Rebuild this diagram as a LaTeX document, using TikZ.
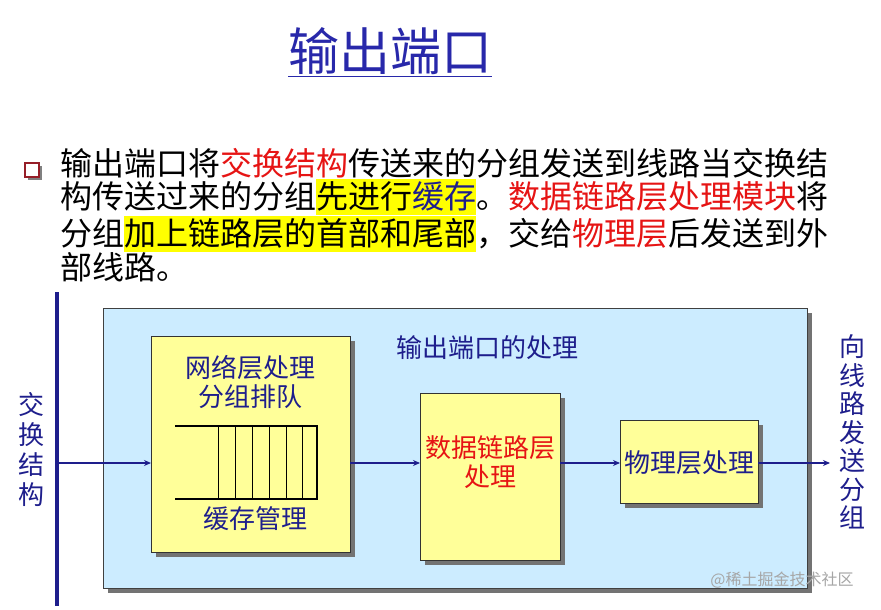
\documentclass[tikz,border=0pt]{standalone}
\usepackage{fontspec}
\usetikzlibrary{arrows.meta}
\newfontfamily\cjk{Noto Sans CJK SC}
\definecolor{navy}{RGB}{30,30,140}
\definecolor{ttl}{RGB}{40,40,170}
\definecolor{lblue}{RGB}{204,236,255}
\definecolor{lyel}{RGB}{255,255,153}
\definecolor{hl}{RGB}{255,255,0}
\definecolor{rd}{RGB}{230,20,20}
\definecolor{bred}{RGB}{150,30,40}
\tikzset{
 box/.style={draw=black!80,line width=1pt,fill=lyel},
 shad/.style={fill=black!55,draw=none},
 arr/.style={draw=navy,line width=1.6pt,-{Stealth[length=7pt,width=6pt]}},
 lbl/.style={text=navy,font=\cjk\fontsize{26}{29}\selectfont,align=center},
}
\begin{document}
\begin{tikzpicture}[x=1pt,y=-1pt]
\useasboundingbox (0,0) rectangle (881,610);
\fill[white] (0,0) rectangle (881,610);
\node[text=ttl,font=\cjk\fontsize{51}{56}\selectfont] (title) at (390,52) {\underline{输出端口}};
% bullet
\fill[black!50] (28,166) rectangle (42,180);
\draw[bred,line width=1.2pt,fill=white] (25,163) rectangle (39,177);
\node[anchor=north west,inner sep=0pt,align=left,font=\cjk\fontsize{32}{31.5}\selectfont] (txt) at (60,148) {%
输出端口将\textcolor{rd}{交换结构}传送来的分组发送到线路当交换结\\
构传送过来的分组\colorbox{hl}{\hspace{-3pt}先进行\textcolor{navy}{缓存}\hspace{-3pt}}。\textcolor{rd}{数据链路层处理模块}将\\
分组\colorbox{hl}{\hspace{-3pt}加上链路层的首部和尾部\hspace{-3pt}}，交给\textcolor{rd}{物理层}后发送到外\\
部线路。};
% bar
\draw[navy,line width=4pt] (57,292) -- (57,606);
\coordinate (bar) at (57,463);
% big box
\fill[shad] (108,313) rectangle (812,593);
\draw[black!75,line width=1pt,fill=lblue] (103,308) rectangle (807,588);
\node[lbl] (ptitle) at (487,348) {输出端口的处理};
% box1
\fill[shad] (156,341) rectangle (355,557);
\draw[box] (151,336) rectangle (350,552);
\node[lbl] (t1) at (250,382) {网络层处理\\分组排队};
\node[lbl] (t2) at (255,519) {缓存管理};
\draw[line width=1.3pt] (175,426) -- (317,426) -- (317,499) -- (175,499);
\foreach \x in {218,235,252,269,286,302} \draw[line width=0.8pt] (\x,426) -- (\x,499);
\coordinate (b1r) at (350,463);\coordinate (b1l) at (151,463);
% box2
\fill[shad] (425,398) rectangle (565,565);
\draw[box] (420,393) rectangle (560,560);
\node[lbl,text=rd] (b2) at (490,462) {数据链路层\\处理};
\coordinate (b2l) at (420,463);\coordinate (b2r) at (560,463);
% box3
\fill[shad] (625,425) rectangle (763,508);
\draw[box] (620,420) rectangle (758,503);
\node[lbl] (b3) at (689,463) {物理层处理};
\coordinate (b3l) at (620,463);\coordinate (b3r) at (758,463);
\coordinate (out) at (830,463);
\draw[arr] (bar) -- (b1l);
\draw[arr] (b1r) -- (b2l);
\draw[arr] (b2r) -- (b3l);
\draw[arr] (b3r) -- (out);
\node[lbl,text width=28pt,font=\cjk\fontsize{26}{30}\selectfont] (lft) at (31,450) {交\\换\\结\\构};
\node[lbl,text width=28pt,font=\cjk\fontsize{26}{28.5}\selectfont] (rgt) at (852,432) {向\\线\\路\\发\\送\\分\\组};
\node[text=black!35,font=\cjk\fontsize{16}{18}\selectfont] (wm) at (782,580) {@稀土掘金技术社区};
\end{tikzpicture}
\end{document}
